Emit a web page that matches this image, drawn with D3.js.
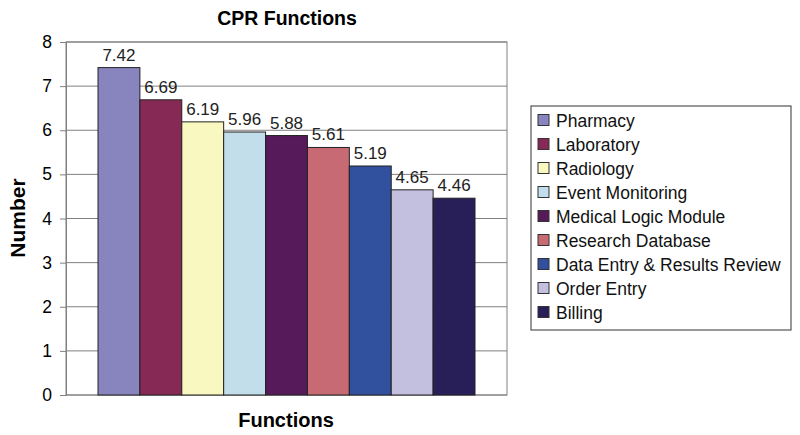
<!DOCTYPE html>
<html><head><meta charset="utf-8">
<script src="https://cdn.jsdelivr.net/npm/d3@7"></script>
<style>body{margin:0;background:#fff}svg{display:block;font-family:"Liberation Sans",Arial,sans-serif}</style>
</head><body><svg id="c" width="800" height="435"></svg>
<script>
const categories = ["Pharmacy","Laboratory","Radiology","Event Monitoring","Medical Logic Module","Research Database","Data Entry & Results Review","Order Entry","Billing"];
const values = [7.42,6.69,6.19,5.96,5.88,5.61,5.19,4.65,4.46];
const colors = ["#8884be","#862a55","#f8f8c0","#c2deea","#561a5a","#c86a74","#31509e","#c3bfdf","#281f58"];
const yTicks = [0,1,2,3,4,5,6,7,8];

const svg = d3.select("#c");
const L = 66, R = 507, T = 42, B = 395;
const y = d3.scaleLinear().domain([0,8]).range([B,T]);
const x = d3.scaleBand().domain(categories).range([L+32, R-32]).padding(0);

// grid
svg.append("g").selectAll("line").data(yTicks).join("line")
  .attr("x1",L).attr("x2",R).attr("y1",d=>y(d)).attr("y2",d=>y(d))
  .attr("stroke","#808080").attr("stroke-width",1);
// frame
svg.append("rect").attr("x",L).attr("y",T).attr("width",R-L).attr("height",B-T)
  .attr("fill","none").attr("stroke","#808080");

// axis
const ax = svg.append("g").attr("transform",`translate(${L},0)`)
  .call(d3.axisLeft(y).tickValues(yTicks).tickSize(6).tickPadding(8).tickFormat(d3.format("d")));
ax.select(".domain").attr("stroke","#808080");
ax.selectAll(".tick line").attr("stroke","#808080");
ax.selectAll("text").attr("font-size",17.5).attr("fill","#000").attr("font-family","Liberation Sans, Arial, sans-serif");

// bars
svg.append("g").selectAll("rect").data(categories).join("rect")
  .attr("x",d=>x(d)).attr("width",x.bandwidth())
  .attr("y",(d,i)=>y(values[i])).attr("height",(d,i)=>B-y(values[i]))
  .attr("fill",(d,i)=>colors[i]).attr("stroke","#222").attr("stroke-width",1);

// labels
svg.append("g").selectAll("text").data(categories).join("text")
  .attr("x",d=>x(d)+x.bandwidth()/2).attr("y",(d,i)=>y(values[i])-7)
  .attr("text-anchor","middle").attr("font-size",17).attr("fill","#222")
  .text((d,i)=>values[i].toFixed(2));

// titles
svg.append("text").attr("x",287).attr("y",25).attr("text-anchor","middle")
  .attr("font-size",19.5).attr("font-weight","bold").text("CPR Functions");
svg.append("text").attr("x",286).attr("y",427).attr("text-anchor","middle")
  .attr("font-size",20).attr("font-weight","bold").text("Functions");
svg.append("text").attr("transform","translate(25,218) rotate(-90)").attr("text-anchor","middle")
  .attr("font-size",21).attr("font-weight","bold").text("Number");

// legend
const lg = svg.append("g");
lg.append("rect").attr("x",531).attr("y",106).attr("width",260).attr("height",224)
  .attr("fill","#fff").attr("stroke","#333");
const items = lg.selectAll("g").data(categories).join("g")
  .attr("transform",(d,i)=>`translate(538,${120+i*24})`);
items.append("rect").attr("x",0).attr("y",-5.5).attr("width",11).attr("height",11)
  .attr("fill",(d,i)=>colors[i]).attr("stroke","#333");
items.append("text").attr("x",18).attr("y",6.5).attr("font-size",17.5).attr("fill","#111").text(d=>d);
</script></body></html>
